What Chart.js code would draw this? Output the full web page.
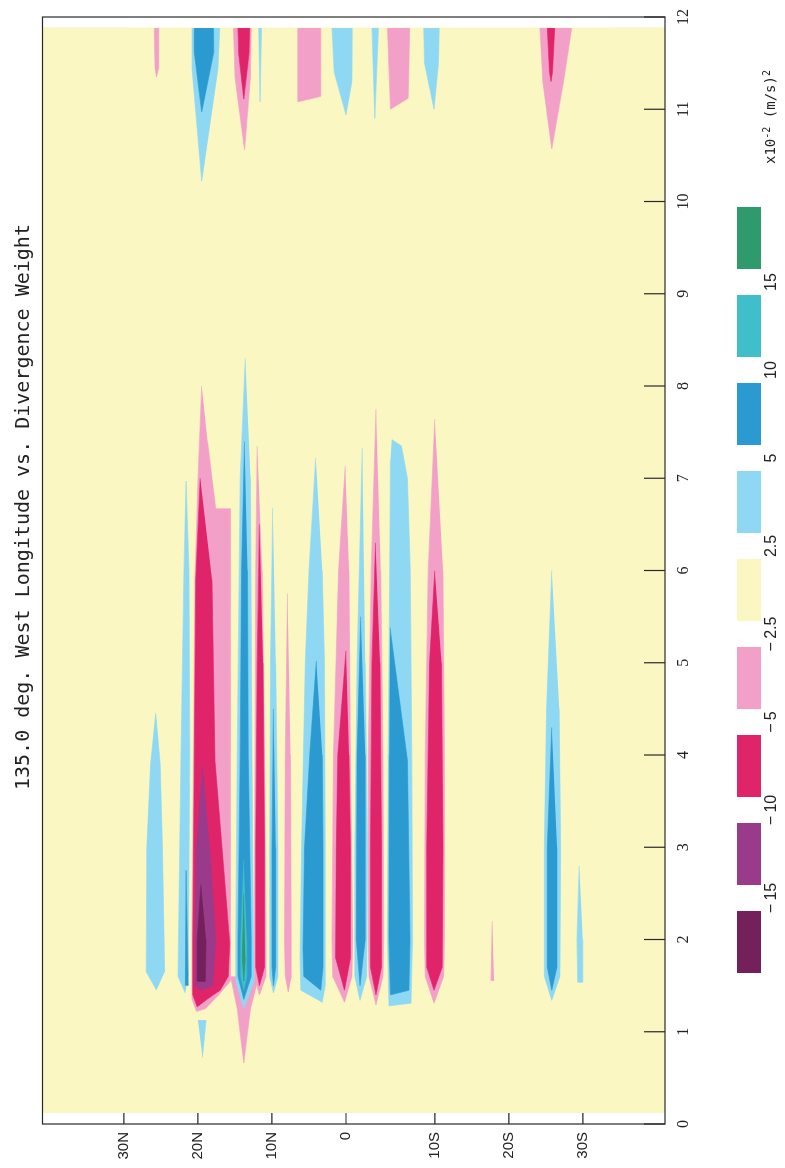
<!DOCTYPE html>
<html>
<head>
<meta charset="utf-8">
<script src="https://cdn.jsdelivr.net/npm/chart.js@4"></script>
<style>
  html, body { margin: 0; padding: 0; width: 785px; height: 1168px; overflow: hidden; background: #fff; }
  #page {
    position: absolute; left: 0; top: 0; width: 1168px; height: 785px;
    transform-origin: 0 0; transform: translateY(1168px) rotate(-90deg);
  }
  #chart { position: absolute; left: 0; top: 0; }
  #title {
    position: absolute; left: 378px; top: 10px; white-space: nowrap;
    font: 20px/24px "DejaVu Sans Mono", monospace; color: #222;
  }
  #units {
    position: absolute; left: 1004px; top: 758px; white-space: nowrap;
    font: 14px/18px "DejaVu Sans Mono", monospace; color: #222;
  }
  #units sup { font-size: 10px; vertical-align: 5px; }
  .swatch { position: absolute; top: 737px; width: 62px; height: 24px; }
  .bound {
    position: absolute; top: 762px; width: 50px; margin-left: -25px; text-align: center;
    font: 16px/18px "Liberation Sans", Arial, sans-serif; color: #222;
  }
</style>
</head>
<body>
<div id="page">
  <canvas id="chart" width="1168" height="785"></canvas>
  <div id="title">135.0 deg. West Longitude vs. Divergence Weight</div>
  <div id="units">x10<sup>-2</sup> (m/s)<sup>2</sup></div>
</div>
<script>
// axes
const weightTicks = [0, 1, 2, 3, 4, 5, 6, 7, 8, 9, 10, 11, 12];
const latTickPos = [30, 20, 10, 0, -12, -22, -32];
const latTickLabels = ['30N', '20N', '10N', '0', '10S', '20S', '30S'];

// shading levels, x10^-2 (m/s)^2
const levelBounds = [-15, -10, -5, -2.5, 2.5, 5, 10, 15];
const levelColors = ['#74205a', '#9a3a8a', '#e0246a', '#f3a0c8', '#faf7c3',
                     '#8ed8f3', '#2a9ad1', '#3fbfca', '#2f9a6c'];

// filled regions, each one a list of [weight, lat] pairs
const neutralField = [
  [[0.12, 41], [11.88, 41], [11.88, -43.1], [0.12, -43.1]]
];
const negWeak = [   // -5 .. -2.5
  [[11.88, 25.9], [11.45, 25.8], [11.35, 25.6], [11.45, 25.3], [11.88, 25.3]],
  [[11.88, 15.2], [11.35, 15.0], [10.56, 13.7], [11.35, 12.9], [11.88, 12.8]],
  [[11.88, 6.5], [11.08, 6.5], [11.14, 3.4], [11.88, 3.4]],
  [[11.88, -5.6], [11.0, -6.0], [11.12, -8.4], [11.88, -8.6]],
  [[11.88, -26.2], [11.3, -26.6], [10.57, -27.8], [11.3, -29.4], [11.88, -30.5]],
  [[8.0, 19.5], [7.0, 20.0], [5.9, 20.4], [3.9, 20.6], [2.0, 20.8], [1.35, 20.8], [1.22, 20.2],
   [1.25, 19.0], [1.4, 17.2], [1.55, 15.6], [6.67, 15.6], [6.67, 17.6], [7.4, 18.7]],
  [[1.6, 15.6], [1.25, 14.7], [0.66, 13.8], [1.25, 12.9], [1.5, 12.1], [1.6, 12.1]],
  [[7.35, 12.0], [6.0, 12.2], [4.0, 12.3], [2.0, 12.4], [1.6, 12.4], [1.4, 11.7],
   [1.6, 10.8], [2.0, 10.8], [4.0, 11.0], [6.0, 11.3]],
  [[5.75, 7.9], [4.0, 8.2], [2.0, 8.3], [1.6, 8.2], [1.43, 7.8], [1.6, 7.4], [2.0, 7.4], [4.0, 7.5]],
  [[7.13, 0.1], [6.0, 1.0], [4.0, 1.7], [2.0, 1.9], [1.6, 1.8], [1.32, 0.2],
   [1.6, -0.8], [2.0, -0.9], [4.0, -0.6], [6.0, -0.4]],
  [[7.75, -4.05], [6.0, -3.4], [4.0, -3.0], [2.0, -3.0], [1.6, -3.1], [1.29, -4.05],
   [1.6, -5.0], [2.0, -5.1], [4.0, -5.0], [6.0, -4.7]],
  [[7.64, -12.0], [6.0, -11.1], [4.0, -10.7], [2.0, -10.6], [1.6, -10.7], [1.31, -11.9],
   [1.6, -13.2], [2.0, -13.3], [4.0, -13.3], [6.0, -13.1]],
  [[2.2, -19.75], [1.56, -19.6], [1.56, -20.0]]
];
const negMid = [    // -10 .. -5
  [[11.88, 14.6], [11.6, 14.5], [11.11, 13.8], [11.6, 13.1], [11.88, 13.0]],
  [[11.88, -27.2], [11.4, -27.5], [11.3, -27.7], [11.4, -27.9], [11.88, -28.2]],
  [[7.0, 19.7], [5.9, 20.3], [3.9, 20.5], [2.0, 20.7], [1.4, 20.7], [1.27, 20.1], [1.35, 18.8],
   [1.45, 17.0], [1.6, 15.9], [1.96, 15.7], [3.94, 17.7], [5.9, 18.1]],
  [[6.5, 11.7], [5.0, 12.0], [3.0, 12.2], [1.7, 12.2], [1.5, 11.7], [1.7, 11.0], [3.0, 11.0], [5.0, 11.2]],
  [[5.13, 0.0], [4.0, 1.1], [3.0, 1.3], [1.8, 1.4], [1.45, 0.2], [1.8, -0.6], [3.0, -0.6], [4.0, -0.4]],
  [[6.3, -4.0], [5.0, -3.5], [3.0, -3.3], [1.7, -3.3], [1.4, -4.05], [1.7, -4.8], [3.0, -4.8], [5.0, -4.6]],
  [[6.0, -12.0], [5.0, -11.3], [3.0, -10.9], [1.7, -10.9], [1.45, -11.9], [1.7, -13.0], [3.0, -13.1], [5.0, -12.9]]
];
const negStrong = [ // -15 .. -10
  [[3.9, 19.4], [3.0, 20.2], [2.0, 20.4], [1.5, 20.4], [1.45, 19.5], [1.5, 18.0], [2.0, 17.6], [3.0, 18.4]]
];
const negPeak = [   // below -15
  [[2.6, 19.6], [2.0, 20.1], [1.55, 20.1], [1.55, 19.0], [2.0, 18.9]]
];
const posWeak = [   // 2.5 .. 5
  [[11.88, 20.8], [11.44, 20.8], [10.22, 19.5], [11.44, 17.3], [11.88, 17.05]],
  [[11.88, 11.8], [11.08, 11.6], [11.88, 11.4]],
  [[11.88, 1.9], [11.4, 1.6], [10.94, 0.0], [11.3, -0.8], [11.88, -0.85]],
  [[11.88, -3.5], [10.9, -3.9], [11.88, -4.4]],
  [[11.88, -10.5], [11.5, -10.6], [11.0, -11.9], [11.5, -12.5], [11.88, -12.6]],
  [[1.45, 25.6], [1.65, 27.0], [3.0, 26.9], [3.9, 26.4], [4.45, 25.7], [3.9, 25.1], [3.0, 24.8], [1.65, 24.5]],
  [[1.42, 21.7], [1.6, 22.7], [4.0, 22.3], [6.0, 21.9], [6.97, 21.6], [6.0, 21.2], [4.0, 21.1], [1.6, 21.3]],
  [[1.12, 20.0], [1.12, 18.9], [0.72, 19.4]],
  [[8.3, 13.6], [7.0, 14.3], [4.0, 14.7], [2.0, 14.9], [1.55, 14.9], [1.25, 13.8],
   [1.55, 12.4], [2.0, 12.5], [4.0, 12.7], [7.0, 12.9]],
  [[6.68, 9.9], [5.0, 10.2], [3.0, 10.3], [1.6, 10.3], [1.42, 9.8], [1.6, 9.2], [3.0, 9.2], [5.0, 9.5]],
  [[7.22, 4.1], [6.0, 5.0], [5.0, 5.5], [3.0, 6.0], [1.8, 6.2], [1.45, 6.1], [1.32, 3.2],
   [1.5, 2.8], [3.0, 2.8], [5.0, 2.9], [6.0, 3.2]],
  [[7.33, -2.2], [5.0, -1.5], [3.0, -1.2], [1.6, -1.2], [1.34, -1.9], [1.6, -2.8], [3.0, -2.9], [5.0, -2.6]],
  [[7.42, -6.2], [7.35, -7.5], [7.0, -8.3], [6.0, -8.7], [4.0, -8.9], [2.0, -9.0], [1.31, -8.8],
   [1.28, -5.8], [2.0, -5.6], [4.0, -5.7], [6.0, -5.9], [7.2, -6.0]],
  [[6.0, -27.8], [4.5, -27.1], [3.0, -26.8], [1.6, -26.8], [1.34, -27.8], [1.6, -28.9], [3.0, -29.0], [4.5, -28.8]],
  [[2.8, -31.5], [2.0, -31.2], [1.54, -31.3], [1.54, -32.0], [2.0, -32.0]]
];
const posMid = [    // 5 .. 10
  [[11.88, 20.5], [11.62, 20.5], [10.97, 19.5], [11.62, 17.85], [11.88, 17.9]],
  [[1.5, 21.7], [2.75, 21.6], [1.5, 21.3]],
  [[7.4, 13.7], [6.0, 14.1], [4.0, 14.3], [2.0, 14.6], [1.6, 14.6], [1.35, 13.8],
   [1.6, 12.8], [2.0, 12.8], [4.0, 13.2], [6.0, 13.3]],
  [[4.5, 9.8], [3.0, 10.0], [1.7, 10.0], [1.5, 9.8], [1.7, 9.5], [3.0, 9.5]],
  [[5.02, 4.0], [4.0, 4.9], [3.0, 5.6], [1.9, 5.8], [1.6, 5.7], [1.45, 3.4], [1.7, 3.1], [3.0, 3.1], [4.0, 3.2]],
  [[5.5, -2.0], [4.0, -1.5], [2.0, -1.4], [1.5, -1.9], [2.0, -2.6], [4.0, -2.6]],
  [[5.38, -5.95], [3.94, -8.3], [2.0, -8.65], [1.45, -8.5], [1.4, -6.0], [2.0, -5.8], [4.0, -5.85]],
  [[4.3, -27.8], [3.0, -27.2], [1.7, -27.2], [1.45, -27.8], [1.7, -28.5], [3.0, -28.5]]
];
const posStrong = [ // 10 .. 15
  [[2.86, 13.8], [2.0, 14.2], [1.6, 14.2], [1.45, 13.8], [1.6, 13.4], [2.0, 13.4]]
];
const posPeak = [   // above 15
  [[2.5, 13.8], [1.8, 14.0], [1.55, 13.8], [1.8, 13.6]]
];

// paint order: background first, strongest cores last
const layers = [
  { polys: neutralField, color: levelColors[4] },
  { polys: negWeak, color: levelColors[3] },
  { polys: negMid, color: levelColors[2] },
  { polys: negStrong, color: levelColors[1] },
  { polys: negPeak, color: levelColors[0] },
  { polys: posWeak, color: levelColors[5] },
  { polys: posMid, color: levelColors[6] },
  { polys: posStrong, color: levelColors[7] },
  { polys: posPeak, color: levelColors[8] }
];

const datasets = [];
layers.forEach((layer, li) => {
  layer.polys.forEach(poly => {
    datasets.push({
      data: poly.map(([w, lat]) => ({ x: w, y: lat })),
      showLine: true,
      fill: 'shape',
      backgroundColor: layer.color,
      borderColor: layer.color,
      borderWidth: 0.6,
      pointRadius: 0,
      order: layers.length - li
    });
  });
});

// box around the plot with short ticks pointing inward
const frame = {
  id: 'frame',
  afterDraw(chart) {
    const { ctx, chartArea: a, scales: { x, y } } = chart;
    ctx.save();
    ctx.strokeStyle = '#2a2a2a';
    ctx.lineWidth = 1.2;
    ctx.strokeRect(a.left, a.top, a.right - a.left, a.bottom - a.top);
    ctx.beginPath();
    x.ticks.forEach(t => {
      const px = x.getPixelForValue(t.value);
      ctx.moveTo(px, a.bottom);
      ctx.lineTo(px, a.bottom - 21);
    });
    y.ticks.forEach(t => {
      const py = y.getPixelForValue(t.value);
      ctx.moveTo(a.left, py);
      ctx.lineTo(a.left + 11, py);
    });
    ctx.stroke();
    ctx.restore();
  }
};

new Chart(document.getElementById('chart'), {
  type: 'scatter',
  data: { datasets },
  options: {
    responsive: false,
    animation: false,
    devicePixelRatio: 1,
    layout: { padding: { top: 42.5, right: 15, bottom: 80, left: 0 } },
    plugins: { legend: { display: false }, tooltip: { enabled: false } },
    scales: {
      x: {
        type: 'linear', min: 0, max: 12,
        afterFit: s => { s.height = 40; },
        afterBuildTicks: s => { s.ticks = weightTicks.map(v => ({ value: v })); },
        grid: { display: false, drawTicks: false },
        border: { display: false },
        ticks: {
          padding: 9, color: '#222', autoSkip: false, maxRotation: 0,
          font: { family: 'Liberation Serif', size: 16 }
        }
      },
      y: {
        type: 'linear', min: -43.1, max: 41,
        afterFit: s => { s.width = 44; },
        afterBuildTicks: s => { s.ticks = latTickPos.map(v => ({ value: v })); },
        grid: { display: false, drawTicks: false },
        border: { display: false },
        ticks: {
          padding: 8, color: '#222', autoSkip: false,
          font: { family: 'Liberation Sans', size: 15 },
          callback: v => latTickLabels[latTickPos.indexOf(v)]
        }
      }
    }
  },
  plugins: [frame]
});

// colour key
const page = document.getElementById('page');
levelColors.forEach((c, i) => {
  const box = document.createElement('div');
  box.className = 'swatch';
  box.style.left = (195 + i * 88) + 'px';
  box.style.background = c;
  page.appendChild(box);
});
levelBounds.forEach((b, i) => {
  const lab = document.createElement('div');
  lab.className = 'bound';
  lab.style.left = (270 + i * 88) + 'px';
  lab.textContent = b < 0 ? '\u2212\u2009' + Math.abs(b) : String(b);
  page.appendChild(lab);
});
</script>
</body>
</html>
